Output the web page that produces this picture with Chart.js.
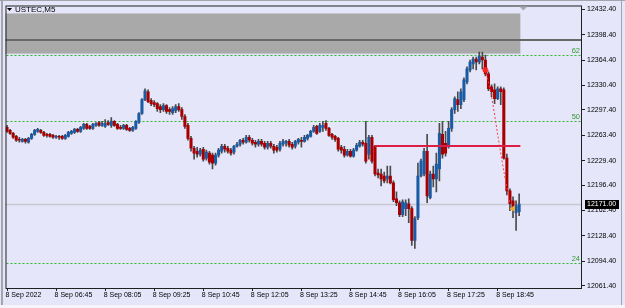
<!DOCTYPE html>
<html>
<head>
<meta charset="utf-8">
<script src="https://cdn.jsdelivr.net/npm/chart.js@4.4.0/dist/chart.umd.min.js"></script>
<style>
  html, body { margin: 0; padding: 0; background: #e6e6fa; }
</style>
</head>
<body>
<canvas id="chart" width="625" height="308"></canvas>
<script>
// USTEC M5, 8 Sep 2022 - one entry per 5 minute bar, starting 05:25
var openP = [
  12274.0, 12270.0, 12266.0, 12262.0, 12258.0, 12255.3, 12258.0, 12254.0, 12259.3, 12264.7,
  12268.6, 12270.0, 12267.3, 12264.7, 12264.7, 12263.3, 12260.7, 12262.0, 12262.0, 12259.3,
  12262.0, 12266.0, 12267.3, 12271.3, 12268.6, 12272.6, 12278.0, 12275.3, 12272.6, 12276.6,
  12280.6, 12276.6, 12275.3, 12280.6, 12276.6, 12282.0, 12278.0, 12274.0, 12272.6, 12276.6,
  12272.6, 12270.0, 12272.6, 12280.6, 12292.6, 12311.2, 12321.9, 12309.9, 12307.3, 12305.9,
  12301.9, 12297.9, 12303.3, 12297.9, 12293.9, 12296.6, 12301.9, 12297.9, 12288.6, 12276.6,
  12259.3, 12246.0, 12242.0, 12238.0, 12244.7, 12232.7, 12239.4, 12236.7, 12226.1, 12236.7,
  12242.0, 12248.7, 12246.0, 12243.4, 12240.7, 12248.7, 12251.3, 12256.7, 12254.0, 12260.7,
  12256.7, 12254.0, 12251.3, 12255.3, 12252.7, 12247.3, 12252.7, 12248.7, 12247.3, 12244.7,
  12251.3, 12252.7, 12255.3, 12251.3, 12248.7, 12254.0, 12256.7, 12255.3, 12259.3, 12262.0,
  12268.6, 12275.3, 12268.6, 12274.0, 12279.3, 12272.6, 12264.7, 12262.0, 12259.3, 12247.3,
  12244.7, 12236.7, 12242.0, 12235.4, 12243.4, 12248.7, 12254.0, 12252.7, 12238.0, 12260.7,
  12248.7, 12212.7, 12211.4, 12208.7, 12204.8, 12208.7, 12199.4, 12178.1, 12172.8, 12156.8,
  12164.8, 12171.5, 12164.8, 12122.2, 12152.8, 12208.7, 12211.4, 12242.0, 12179.5, 12211.4,
  12204.8, 12218.1, 12264.7, 12252.7, 12248.7, 12272.6, 12297.9, 12311.2, 12304.6, 12311.2,
  12335.2, 12351.2, 12359.2, 12365.8, 12361.8, 12368.5, 12364.5, 12345.9, 12328.5, 12324.6,
  12312.6, 12325.9, 12324.6, 12232.7, 12188.8, 12175.5, 12159.5, 12160.8
];
var highP = [
  12276.6, 12271.3, 12267.3, 12263.3, 12260.7, 12259.3, 12259.3, 12260.7, 12266.0, 12271.3,
  12272.6, 12271.3, 12268.6, 12266.0, 12266.0, 12264.7, 12263.3, 12263.3, 12263.3, 12264.7,
  12268.6, 12270.0, 12272.6, 12272.6, 12275.3, 12279.3, 12279.3, 12276.6, 12279.3, 12280.6,
  12282.0, 12282.0, 12284.6, 12283.3, 12287.3, 12283.3, 12279.3, 12276.6, 12278.0, 12278.0,
  12274.0, 12275.3, 12283.3, 12293.9, 12312.6, 12325.9, 12324.6, 12312.6, 12309.9, 12307.3,
  12304.6, 12305.9, 12304.6, 12300.6, 12301.9, 12304.6, 12305.9, 12300.6, 12291.3, 12279.3,
  12262.0, 12248.7, 12247.3, 12246.0, 12247.3, 12243.4, 12242.0, 12239.4, 12239.4, 12246.0,
  12251.3, 12251.3, 12248.7, 12246.0, 12250.0, 12254.0, 12258.0, 12259.3, 12263.3, 12263.3,
  12259.3, 12256.7, 12258.0, 12258.0, 12255.3, 12255.3, 12255.3, 12251.3, 12250.0, 12255.3,
  12258.0, 12256.7, 12258.0, 12254.0, 12256.7, 12259.3, 12260.7, 12263.3, 12264.7, 12270.0,
  12276.6, 12276.6, 12279.3, 12282.0, 12283.3, 12274.0, 12266.0, 12263.3, 12260.7, 12250.0,
  12248.7, 12244.7, 12244.7, 12246.0, 12252.7, 12256.7, 12256.7, 12282.0, 12263.3, 12263.3,
  12250.0, 12218.1, 12218.1, 12214.1, 12222.1, 12222.1, 12202.1, 12187.4, 12175.5, 12176.8,
  12176.8, 12178.1, 12167.5, 12154.2, 12226.1, 12231.4, 12246.0, 12264.7, 12215.4, 12222.1,
  12239.4, 12279.3, 12282.0, 12268.6, 12282.0, 12300.6, 12315.2, 12321.9, 12325.9, 12340.5,
  12355.2, 12364.5, 12368.5, 12368.5, 12375.1, 12375.1, 12371.1, 12348.5, 12331.2, 12332.5,
  12328.5, 12328.5, 12327.2, 12238.0, 12191.4, 12180.8, 12175.5, 12184.8
];
var lowP = [
  12267.3, 12264.7, 12259.3, 12255.3, 12254.0, 12254.0, 12252.7, 12252.7, 12258.0, 12263.3,
  12267.3, 12266.0, 12262.0, 12260.7, 12260.7, 12259.3, 12259.3, 12258.0, 12258.0, 12258.0,
  12260.7, 12264.7, 12266.0, 12267.3, 12267.3, 12271.3, 12271.3, 12271.3, 12271.3, 12275.3,
  12275.3, 12275.3, 12274.0, 12276.6, 12274.0, 12275.3, 12271.3, 12271.3, 12271.3, 12270.0,
  12268.6, 12268.6, 12271.3, 12279.3, 12291.3, 12309.9, 12307.3, 12303.3, 12301.9, 12295.3,
  12293.9, 12295.3, 12292.6, 12291.3, 12291.3, 12293.9, 12295.3, 12284.6, 12272.6, 12256.7,
  12242.0, 12231.4, 12234.0, 12235.4, 12228.7, 12230.0, 12224.7, 12218.1, 12223.4, 12234.0,
  12239.4, 12240.7, 12239.4, 12236.7, 12238.0, 12247.3, 12248.7, 12251.3, 12252.7, 12254.0,
  12250.0, 12247.3, 12248.7, 12248.7, 12244.7, 12244.7, 12246.0, 12239.4, 12240.7, 12242.0,
  12248.7, 12248.7, 12247.3, 12244.7, 12246.0, 12251.3, 12247.3, 12254.0, 12256.7, 12260.7,
  12267.3, 12264.7, 12267.3, 12268.6, 12270.0, 12262.0, 12258.0, 12255.3, 12242.0, 12239.4,
  12234.0, 12235.4, 12234.0, 12234.0, 12242.0, 12247.3, 12248.7, 12226.1, 12231.4, 12226.1,
  12208.7, 12206.1, 12195.4, 12199.4, 12199.4, 12198.1, 12174.1, 12168.8, 12154.2, 12154.2,
  12155.5, 12146.2, 12115.6, 12111.6, 12150.2, 12207.4, 12208.7, 12172.8, 12178.1, 12194.1,
  12187.4, 12202.1, 12232.7, 12235.4, 12246.0, 12268.6, 12292.6, 12295.3, 12299.3, 12308.6,
  12332.5, 12348.5, 12352.5, 12351.2, 12359.2, 12352.5, 12343.2, 12323.2, 12315.2, 12305.9,
  12311.2, 12304.6, 12231.4, 12183.4, 12162.1, 12152.8, 12135.5, 12155.5
];
var closeP = [
  12268.6, 12266.0, 12260.7, 12256.7, 12256.7, 12258.0, 12255.3, 12259.3, 12264.7, 12270.0,
  12271.3, 12267.3, 12263.3, 12263.3, 12262.0, 12260.7, 12262.0, 12260.7, 12259.3, 12263.3,
  12267.3, 12268.6, 12271.3, 12268.6, 12274.0, 12278.0, 12272.6, 12272.6, 12278.0, 12279.3,
  12276.6, 12279.3, 12279.3, 12278.0, 12282.0, 12276.6, 12272.6, 12272.6, 12276.6, 12271.3,
  12270.0, 12274.0, 12282.0, 12292.6, 12311.2, 12323.2, 12308.6, 12305.9, 12304.6, 12299.3,
  12297.9, 12303.3, 12295.3, 12295.3, 12299.3, 12301.9, 12297.9, 12288.6, 12275.3, 12259.3,
  12246.0, 12239.4, 12238.0, 12243.4, 12231.4, 12240.7, 12227.4, 12226.1, 12236.7, 12243.4,
  12248.7, 12244.7, 12242.0, 12239.4, 12248.7, 12251.3, 12256.7, 12254.0, 12260.7, 12256.7,
  12252.7, 12251.3, 12255.3, 12251.3, 12247.3, 12252.7, 12248.7, 12243.4, 12243.4, 12252.7,
  12255.3, 12255.3, 12250.0, 12247.3, 12255.3, 12258.0, 12255.3, 12260.7, 12263.3, 12268.6,
  12274.0, 12266.0, 12276.6, 12276.6, 12272.6, 12263.3, 12260.7, 12258.0, 12244.7, 12243.4,
  12236.7, 12242.0, 12235.4, 12243.4, 12250.0, 12254.0, 12251.3, 12228.7, 12260.7, 12228.7,
  12211.4, 12210.1, 12204.8, 12202.1, 12208.7, 12199.4, 12176.8, 12172.8, 12156.8, 12174.1,
  12172.8, 12164.8, 12122.2, 12151.5, 12208.7, 12228.7, 12242.0, 12182.1, 12211.4, 12204.8,
  12224.7, 12266.0, 12238.0, 12239.4, 12272.6, 12297.9, 12312.6, 12304.6, 12321.9, 12337.9,
  12352.5, 12361.8, 12365.8, 12361.8, 12369.8, 12364.5, 12345.9, 12325.9, 12321.9, 12312.6,
  12325.9, 12321.9, 12232.7, 12188.8, 12171.5, 12166.1, 12168.8, 12171.0
];

var xTickBars = [0, 16, 32, 48, 64, 80, 96, 112, 128, 144, 160];
var xTickLabels = ['8 Sep 2022', '8 Sep 06:45', '8 Sep 08:05', '8 Sep 09:25', '8 Sep 10:45',
  '8 Sep 12:05', '8 Sep 13:25', '8 Sep 14:45', '8 Sep 16:05', '8 Sep 17:25', '8 Sep 18:45'];
var yTickValues = [12061.4, 12094.4, 12128.4, 12162.4, 12196.4, 12229.4,
  12263.4, 12297.4, 12330.4, 12364.4, 12398.4, 12432.4];

var lastPrice = 12171.00;
var zoneBars = [-0.5, 167.4];
var zonePrices = [12427.0, 12372.5];
var zoneLinePrice = 12391.5;
var levelPrices = [12370.8, 12282.0, 12092.5];
var levelLabels = ['62', '50', '24'];
var redLineBars = [120, 167.4];
var redLinePrice = 12248.7;
var arcBars = [156, 158, 160, 162, 164];
var arcPrices = [12351.2, 12315.3, 12264.6, 12215.4, 12171.5];
var markerBar = 165;
var markerPrice = 12164.8;

var BULL = '#1a5ca4';
var BEAR = '#a80000';
var tickFont = { family: 'Liberation Sans', size: 7 };

var wickData = lowP.map(function (l, i) { return { x: i, y: [l, highP[i]] }; });
var bodyData = openP.map(function (o, i) { return { x: i, y: [o, closeP[i]] }; });
var bodyColors = openP.map(function (o, i) { return closeP[i] >= o ? BULL : BEAR; });
var arcData = arcBars.map(function (b, i) { return { x: b, y: arcPrices[i] }; });

var overlay = {
    id: 'overlay',
    beforeDraw: function (chart) {
        var ctx = chart.ctx;
        ctx.save();
        ctx.fillStyle = '#e6e6fa';
        ctx.fillRect(0, 0, chart.width, chart.height);
        // window edges
        ctx.fillStyle = '#a4a4ac';
        ctx.fillRect(1, 0, 2, chart.height - 3);
        ctx.fillRect(0, 0, chart.width, 1);
        ctx.fillRect(621, 0, 1, chart.height - 3);
        ctx.fillStyle = '#f4f4fa';
        ctx.fillRect(0, chart.height - 3, chart.width, 3);
        ctx.restore();
    },
    beforeDatasetsDraw: function (chart) {
        var ctx = chart.ctx, a = chart.chartArea, x = chart.scales.x, y = chart.scales.y;
        ctx.save();
        // grey zone
        var zx0 = x.getPixelForValue(zoneBars[0]), zx1 = x.getPixelForValue(zoneBars[1]);
        var zy0 = y.getPixelForValue(zonePrices[0]), zy1 = y.getPixelForValue(zonePrices[1]);
        ctx.fillStyle = '#a9a9a9';
        ctx.fillRect(zx0, zy0, zx1 - zx0, zy1 - zy0);
        ctx.fillStyle = '#c4c4cc';
        ctx.fillRect(zx0, zy1 - 1, zx1 - zx0, 1);
        // dark level line
        var dy = Math.round(y.getPixelForValue(zoneLinePrice));
        ctx.fillStyle = '#686868';
        ctx.fillRect(a.left, dy - 1, a.right - a.left, 2);
        // green dotted levels, drawn dot by dot so they stay crisp
        ctx.fillStyle = '#2db82d';
        levelPrices.forEach(function (p) {
            var ly = Math.round(y.getPixelForValue(p));
            for (var px = a.left + 1; px < a.right - 1; px += 4) {
                ctx.fillRect(px, ly, 2, 1);
            }
        });
        ctx.fillStyle = '#339933';
        ctx.font = '7.5px "Liberation Sans"';
        ctx.textAlign = 'right';
        ctx.textBaseline = 'bottom';
        levelPrices.forEach(function (p, i) {
            ctx.fillText(levelLabels[i], a.right - 2, Math.round(y.getPixelForValue(p)));
        });
        // current price line
        var py = Math.round(y.getPixelForValue(lastPrice)) + 0.5;
        ctx.strokeStyle = '#c8c8d2';
        ctx.lineWidth = 1.5;
        ctx.beginPath();
        ctx.moveTo(a.left, py);
        ctx.lineTo(a.right, py);
        ctx.stroke();
        ctx.restore();
    },
    afterDatasetsDraw: function (chart) {
        var ctx = chart.ctx, a = chart.chartArea, x = chart.scales.x, y = chart.scales.y;
        ctx.save();
        // red horizontal line
        var ry = Math.round(y.getPixelForValue(redLinePrice));
        ctx.fillStyle = '#dc1e46';
        ctx.fillRect(x.getPixelForValue(redLineBars[0]), ry - 1,
            x.getPixelForValue(redLineBars[1]) - x.getPixelForValue(redLineBars[0]), 2);
        // frame
        ctx.strokeStyle = '#202020';
        ctx.lineWidth = 1;
        ctx.strokeRect(a.left + 0.5, a.top + 0.5, a.right - a.left - 1, a.bottom - a.top);
        // chart shift marker
        var sx = x.getPixelForValue(zoneBars[1]) + 3;
        ctx.fillStyle = '#a8a8b0';
        ctx.beginPath();
        ctx.moveTo(sx - 4, a.top + 1);
        ctx.lineTo(sx + 4, a.top + 1);
        ctx.lineTo(sx, a.top + 5);
        ctx.closePath();
        ctx.fill();
        ctx.restore();
    },
    afterDraw: function (chart) {
        var ctx = chart.ctx, a = chart.chartArea, y = chart.scales.y;
        ctx.save();
        // last price label
        var py = Math.round(y.getPixelForValue(lastPrice));
        ctx.fillStyle = '#000';
        ctx.fillRect(a.right + 3, py - 4, 34, 9);
        ctx.fillStyle = '#fff';
        ctx.font = '7px "Liberation Sans"';
        ctx.textAlign = 'left';
        ctx.textBaseline = 'middle';
        ctx.fillText(lastPrice.toFixed(2), a.right + 5, py + 0.5);
        // title
        ctx.fillStyle = '#000';
        ctx.beginPath();
        ctx.moveTo(7, 8);
        ctx.lineTo(12, 8);
        ctx.lineTo(9.5, 11);
        ctx.closePath();
        ctx.fill();
        ctx.font = '8px "Liberation Sans"';
        ctx.fillText('USTEC,M5', 15, 10);
        ctx.restore();
    }
};

var ctx = document.getElementById('chart').getContext('2d');
var chart = new Chart(ctx, {
    type: 'bar',
    data: {
        datasets: [{
            label: 'wick',
            data: wickData,
            backgroundColor: '#4a4a4a',
            barThickness: 1,
            grouped: false,
            order: 3
        }, {
            label: 'body',
            data: bodyData,
            backgroundColor: bodyColors,
            barThickness: 2.4,
            grouped: false,
            order: 2
        }, {
            type: 'line',
            label: 'arc',
            data: arcData,
            borderColor: '#ff3a3a',
            borderWidth: 1,
            borderDash: [2, 2],
            tension: 0.3,
            pointStyle: 'star',
            pointRadius: [3, 0, 0, 0, 0],
            pointBorderColor: '#ff2020',
            pointBorderWidth: 1.5,
            order: 1
        }, {
            type: 'line',
            label: 'marker',
            data: [{ x: markerBar, y: markerPrice }],
            pointStyle: 'triangle',
            rotation: -90,
            pointRadius: 3,
            pointBackgroundColor: '#f0aa30',
            pointBorderColor: '#f0aa30',
            showLine: false,
            order: 0
        }]
    },
    options: {
        responsive: false,
        animation: false,
        layout: { padding: { left: 4, top: 3, right: 0, bottom: 0 } },
        plugins: { legend: { display: false }, tooltip: { enabled: false } },
        scales: {
            x: {
                type: 'linear',
                min: -0.5,
                max: 187.5,
                offset: false,
                afterBuildTicks: function (s) {
                    s.ticks = xTickBars.map(function (v) { return { value: v }; });
                },
                afterFit: function (s) {
                    s.height = 20;
                    s.paddingLeft = 0;
                    s.paddingRight = 0;
                },
                ticks: {
                    callback: function (v, i) { return xTickLabels[i]; },
                    align: 'start',
                    labelOffset: -1.5,
                    autoSkip: false,
                    maxRotation: 0,
                    padding: 0,
                    color: '#000',
                    font: tickFont
                },
                grid: { drawOnChartArea: false, tickLength: 3, color: '#202020', offset: false },
                border: { display: false }
            },
            y: {
                position: 'right',
                min: 12058.3,
                max: 12437.7,
                afterBuildTicks: function (s) {
                    s.ticks = yTickValues.map(function (v) { return { value: v }; });
                },
                afterFit: function (s) {
                    s.width = 43;
                    s.paddingTop = 0;
                    s.paddingBottom = 0;
                },
                ticks: {
                    callback: function (v) { return v.toFixed(2); },
                    padding: 2,
                    color: '#000',
                    font: tickFont
                },
                grid: { drawOnChartArea: false, tickLength: 3, color: '#202020' },
                border: { display: false }
            }
        }
    },
    plugins: [overlay]
});
</script>
</body>
</html>
